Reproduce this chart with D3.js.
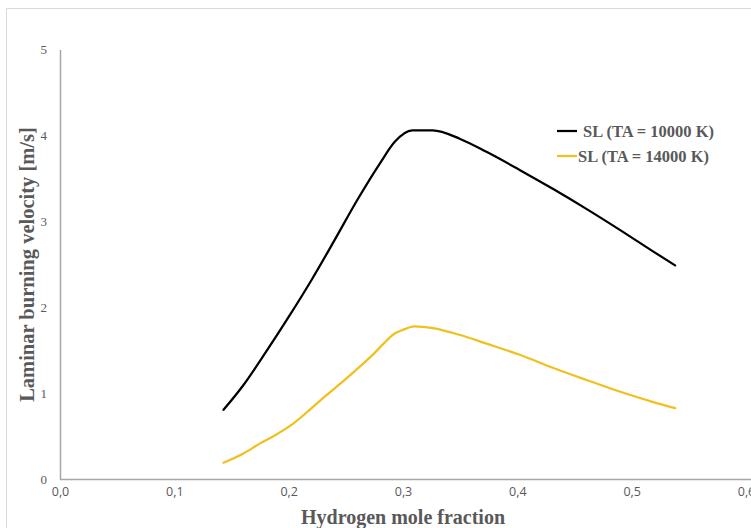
<!DOCTYPE html>
<html>
<head>
<meta charset="utf-8">
<script src="https://cdn.jsdelivr.net/npm/d3@7"></script>
<style>
  body { margin: 0; background: #fff; }
  svg { display: block; }
</style>
</head>
<body>
<svg id="chart" width="751" height="528"></svg>
<script>
// ---- data ----
const xBlack = [0.143, 0.16, 0.18, 0.20, 0.22, 0.24, 0.26, 0.28, 0.293, 0.308, 0.326, 0.35, 0.373, 0.402, 0.431, 0.46, 0.49, 0.519, 0.538];
const yBlack = [0.81, 1.09, 1.48, 1.89, 2.32, 2.78, 3.25, 3.68, 3.93, 4.06, 4.06, 3.96, 3.81, 3.60, 3.38, 3.15, 2.90, 2.65, 2.49];
const xYellow = [0.143, 0.16, 0.175, 0.19, 0.204, 0.22, 0.233, 0.25, 0.262, 0.275, 0.283, 0.293, 0.30, 0.31, 0.326, 0.35, 0.373, 0.402, 0.431, 0.46, 0.49, 0.519, 0.538];
const yYellow = [0.195, 0.30, 0.42, 0.53, 0.65, 0.83, 0.98, 1.17, 1.31, 1.47, 1.58, 1.70, 1.74, 1.78, 1.76, 1.68, 1.58, 1.45, 1.30, 1.16, 1.02, 0.90, 0.83];
const seriesNames = ["SL (TA = 10000 K)", "SL (TA = 14000 K)"];
const xTicks = [0, 0.1, 0.2, 0.3, 0.4, 0.5, 0.6];
const yTicks = [0, 1, 2, 3, 4, 5];
const xTitle = "Hydrogen mole fraction";
const yTitle = "Laminar burning velocity [m/s]";

// ---- layout ----
const svg = d3.select("#chart");
const colors = ["#000000", "#f0c020"];
const x = d3.scaleLinear().domain([0, 0.6]).range([60, 746]);
const y = d3.scaleLinear().domain([0, 5]).range([479.5, 49.5]);

// chart frame (top/left visible)
svg.append("path")
  .attr("d", "M6.5,528 L6.5,8.5 L751,8.5")
  .attr("fill", "none").attr("stroke", "#d9d9d9").attr("stroke-width", 1);

// axes
const xAxis = d3.axisBottom(x).tickValues(xTicks).tickSize(0).tickPadding(8)
  .tickFormat(d => d3.format(".1f")(d).replace(".", ","));
const gx = svg.append("g").attr("transform", `translate(0,${y(0)})`).call(xAxis);
gx.select(".domain").attr("stroke", "#a6a6a6").attr("stroke-width", 1.5).attr("d", `M${x(0)},0H751`);
gx.selectAll("text").attr("fill", "#595959").attr("font-family", "Open Sans, Liberation Sans, sans-serif").attr("font-size", 12.5);

const yAxis = d3.axisLeft(y).tickValues(yTicks).tickSize(0).tickPadding(13).tickFormat(d3.format("d"));
const gy = svg.append("g").attr("transform", `translate(${x(0)},0)`).call(yAxis);
gy.select(".domain").attr("stroke", "#a6a6a6").attr("stroke-width", 1.5);
gy.selectAll("text").attr("fill", "#595959").attr("font-family", "Liberation Serif, Times New Roman, serif").attr("font-size", 13);

// titles
svg.append("text")
  .attr("x", (x(0) + x(0.6)) / 2).attr("y", 524)
  .attr("text-anchor", "middle")
  .attr("font-family", "Liberation Serif, Times New Roman, serif")
  .attr("font-weight", "bold").attr("font-size", 20).attr("fill", "#595959")
  .text(xTitle);
svg.append("text")
  .attr("transform", `translate(34,${(y(0) + y(5)) / 2}) rotate(-90)`)
  .attr("text-anchor", "middle")
  .attr("font-family", "Liberation Serif, Times New Roman, serif")
  .attr("font-weight", "bold").attr("font-size", 20.5).attr("fill", "#595959")
  .text(yTitle);

// lines
const line = d3.line().x(d => x(d[0])).y(d => y(d[1])).curve(d3.curveMonotoneX);
const series = [d3.zip(xBlack, yBlack), d3.zip(xYellow, yYellow)];
series.forEach((s, i) => {
  svg.append("path").datum(s)
    .attr("d", line)
    .attr("fill", "none").attr("stroke", colors[i]).attr("stroke-width", 2.25)
    .attr("stroke-linejoin", "round").attr("stroke-linecap", "round");
});

// legend
const legendY = [131, 156];
const legendTextX = [583, 578];
seriesNames.forEach((name, i) => {
  svg.append("line")
    .attr("x1", 557).attr("x2", 577).attr("y1", legendY[i]).attr("y2", legendY[i])
    .attr("stroke", colors[i]).attr("stroke-width", 2.25);
  svg.append("text")
    .attr("x", legendTextX[i]).attr("y", legendY[i] + 5.5)
    .attr("font-family", "Liberation Serif, Times New Roman, serif")
    .attr("font-weight", "bold").attr("font-size", 16.5).attr("fill", "#595959")
    .text(name);
});
</script>
</body>
</html>
